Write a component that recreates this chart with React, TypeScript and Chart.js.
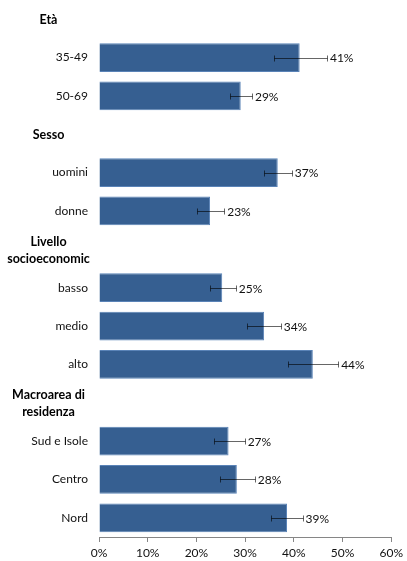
import React, { useEffect, useRef } from 'react';
import { Chart, registerables } from 'chart.js';

Chart.register(...registerables);

// Rows of the chart, top to bottom. Header rows carry no value.
const rowLabels = [
  'Età',
  '35-49',
  '50-69',
  'Sesso',
  'uomini',
  'donne',
  'Livello\nsocioeconomic',
  'basso',
  'medio',
  'alto',
  'Macroarea di\nresidenza',
  'Sud e Isole',
  'Centro',
  'Nord',
];
const headerRows = [true, false, false, true, false, false, true, false, false, false, true, false, false, false];
const values = [null, 41.2, 29.1, null, 36.7, 22.8, null, 25.3, 33.9, 43.9, null, 26.6, 28.3, 38.6];
const errLow = [null, 35.9, 26.9, null, 33.9, 20.1, null, 22.7, 30.4, 38.8, null, 23.6, 24.8, 35.3];
const errHigh = [null, 46.8, 31.4, null, 39.6, 25.7, null, 28.1, 37.3, 49.1, null, 29.9, 32.0, 41.8];
const xTicks = [0, 10, 20, 30, 40, 50, 60];

const FONT = 'Lato, "Liberation Sans", sans-serif';
const TEXT = '#111';
const TOP_PAD = -8.5;

export default function App() {
  const ref = useRef<HTMLCanvasElement>(null);

  useEffect(() => {
    if (!ref.current) return;

    const errorBars = {
      id: 'errorBars',
      afterDatasetsDraw(chart: any) {
        const ctx = chart.ctx;
        const meta = chart.getDatasetMeta(0);
        const xs = chart.scales.x;
        ctx.save();
        ctx.strokeStyle = 'rgba(0,0,0,0.6)';
        ctx.lineWidth = 1;
        meta.data.forEach((bar: any, i: number) => {
          if (values[i] == null) return;
          const y = Math.round(bar.y) + 0.5;
          const x1 = Math.round(xs.getPixelForValue(errLow[i])) + 0.5;
          const x2 = Math.round(xs.getPixelForValue(errHigh[i])) + 0.5;
          ctx.beginPath();
          ctx.moveTo(x1, y);
          ctx.lineTo(x2, y);
          ctx.moveTo(x1, y - 3);
          ctx.lineTo(x1, y + 3);
          ctx.moveTo(x2, y - 3);
          ctx.lineTo(x2, y + 3);
          ctx.stroke();
        });
        ctx.restore();
      },
    };

    const valueLabels = {
      id: 'valueLabels',
      afterDatasetsDraw(chart: any) {
        const ctx = chart.ctx;
        const meta = chart.getDatasetMeta(0);
        const xs = chart.scales.x;
        ctx.save();
        ctx.font = `12px ${FONT}`;
        ctx.fillStyle = TEXT;
        ctx.textAlign = 'left';
        ctx.textBaseline = 'middle';
        meta.data.forEach((bar: any, i: number) => {
          const v = values[i];
          if (v == null) return;
          const hi = xs.getPixelForValue(errHigh[i]);
          const x = Math.max(bar.x, hi) + 3;
          ctx.fillText(`${Math.round(v)}%`, x, bar.y + 1);
        });
        ctx.restore();
      },
    };

    const groupHeaders = {
      id: 'groupHeaders',
      afterDraw(chart: any) {
        const ctx = chart.ctx;
        const ys = chart.scales.y;
        const cx = (ys.left + ys.right) / 2 - 1;
        const lh = 16.6;
        ctx.save();
        ctx.font = `bold 12.5px ${FONT}`;
        ctx.fillStyle = '#000';
        ctx.textAlign = 'center';
        ctx.textBaseline = 'middle';
        rowLabels.forEach((label, i) => {
          if (!headerRows[i]) return;
          const lines = label.split('\n');
          const yc = ys.getPixelForValue(i);
          const y0 = yc - ((lines.length - 1) * lh) / 2;
          lines.forEach((ln, k) => ctx.fillText(ln, cx, y0 + k * lh + 1));
        });
        ctx.restore();
      },
    };

    const chart = new Chart(ref.current, {
      type: 'bar',
      data: {
        labels: rowLabels,
        datasets: [
          {
            data: values as any,
            backgroundColor: '#365F91',
            borderColor: '#5A83B7',
            borderWidth: 1,
            barPercentage: 0.75,
            categoryPercentage: 1,
          },
        ],
      },
      options: {
        indexAxis: 'y',
        animation: false,
        responsive: true,
        maintainAspectRatio: false,
        layout: { padding: { top: TOP_PAD, right: 15, bottom: 0, left: 0 } },
        plugins: {
          legend: { display: false },
          tooltip: { enabled: false },
        },
        scales: {
          x: {
            type: 'linear',
            min: 0,
            max: 60,
            afterBuildTicks: (scale: any) => {
              scale.ticks = xTicks.map((v) => ({ value: v }));
            },
            afterFit: (scale: any) => {
              scale.height = 24;
              scale.paddingTop = TOP_PAD;
            },
            ticks: {
              callback: (v: any) => `${v}%`,
              font: { family: FONT, size: 12 },
              color: TEXT,
              padding: 4,
              maxRotation: 0,
              autoSkip: false,
            },
            grid: {
              drawOnChartArea: false,
              drawTicks: true,
              tickLength: 5,
              color: '#868686',
            },
            border: { display: true, color: '#868686' },
          },
          y: {
            type: 'category',
            afterFit: (scale: any) => {
              scale.width = 99;
              scale.paddingTop = TOP_PAD;
              scale.paddingBottom = 0;
            },
            ticks: {
              callback: (_v: any, i: number) => (headerRows[i] ? '' : rowLabels[i]),
              font: { family: FONT, size: 12 },
              color: TEXT,
              padding: 11,
              autoSkip: false,
            },
            grid: { display: false, drawTicks: false },
            border: { display: false },
          },
        },
      },
      plugins: [errorBars, valueLabels, groupHeaders],
    });

    return () => chart.destroy();
  }, []);

  return (
    <div style={{ position: 'fixed', left: 0, top: 0, width: 407, height: 561, background: '#fff' }}>
      <canvas ref={ref} />
    </div>
  );
}
